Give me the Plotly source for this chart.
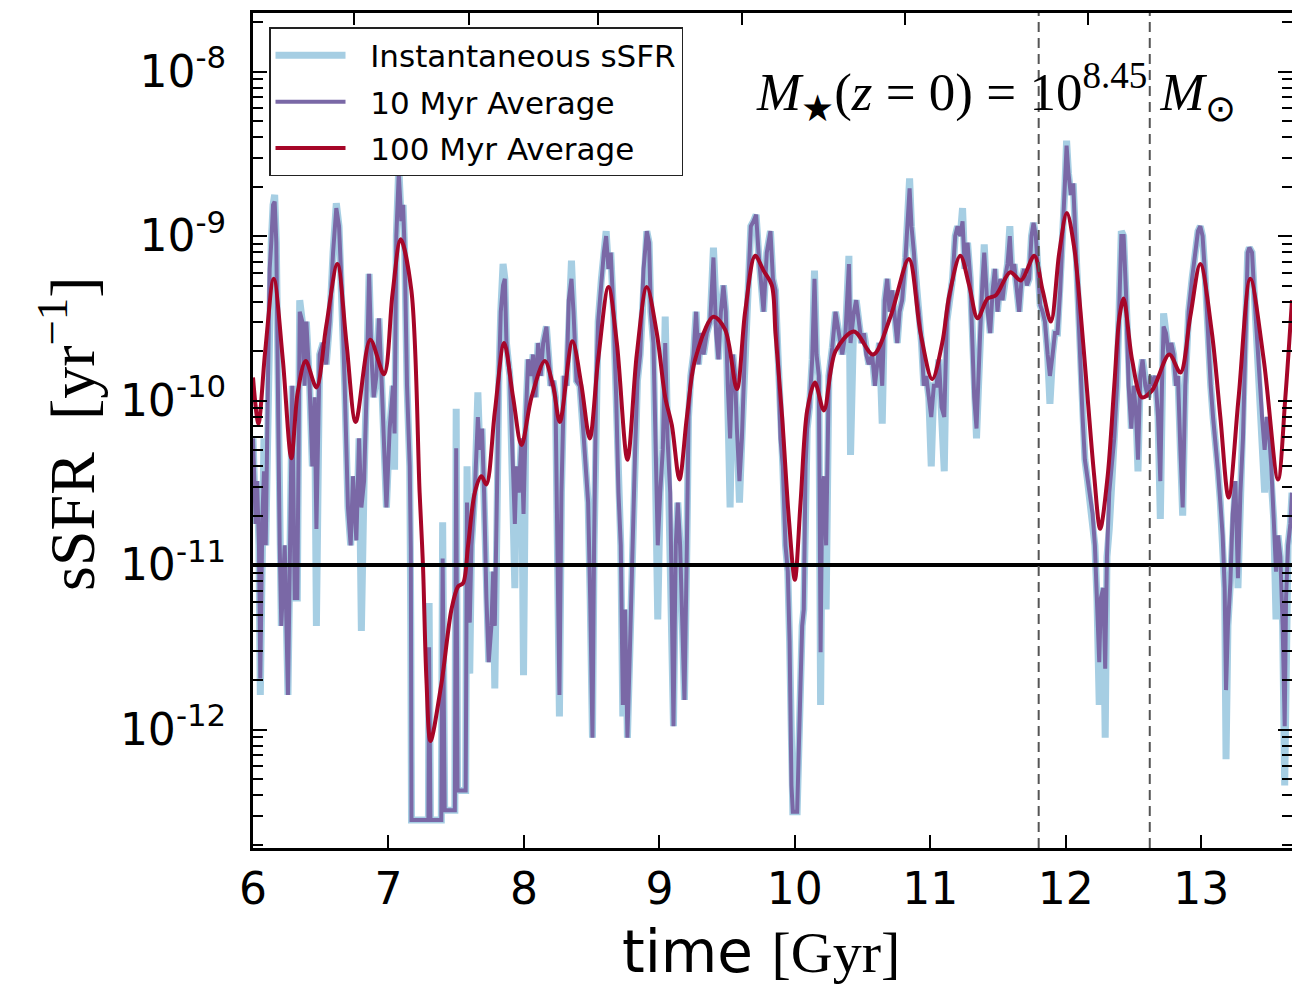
import plotly.graph_objects as go

# ---------------- data ----------------
time_10myr = [
    6.000, 6.020, 6.030, 6.044, 6.054, 6.069, 6.081, 6.094, 6.110, 6.123, 6.135, 6.148, 6.160, 6.172, 6.197, 6.209,
    6.234, 6.246, 6.258, 6.271, 6.290, 6.308, 6.327, 6.345, 6.364, 6.381, 6.394, 6.418, 6.438, 6.455, 6.468, 6.492,
    6.517, 6.541, 6.566, 6.591, 6.615, 6.635, 6.652, 6.677, 6.701, 6.721, 6.738, 6.763, 6.783, 6.800, 6.820, 6.837,
    6.857, 6.874, 6.891, 6.911, 6.930, 6.948, 6.967, 6.985, 7.009, 7.034, 7.045, 7.058, 7.076, 7.095, 7.108, 7.120,
    7.137, 7.157, 7.165, 7.170, 7.295, 7.300, 7.310, 7.390, 7.400, 7.415, 7.490, 7.500, 7.510, 7.570, 7.580, 7.600,
    7.613, 7.637, 7.660, 7.674, 7.691, 7.706, 7.723, 7.740, 7.760, 7.773, 7.785, 7.797, 7.814, 7.829, 7.846, 7.859,
    7.871, 7.896, 7.913, 7.933, 7.945, 7.962, 7.982, 7.997, 8.014, 8.031, 8.051, 8.068, 8.085, 8.105, 8.124, 8.142,
    8.166, 8.183, 8.198, 8.215, 8.233, 8.248, 8.262, 8.277, 8.297, 8.314, 8.331, 8.351, 8.366, 8.388, 8.413, 8.437,
    8.462, 8.474, 8.489, 8.506, 8.518, 8.533, 8.548, 8.572, 8.590, 8.607, 8.624, 8.641, 8.661, 8.681, 8.698, 8.715,
    8.730, 8.747, 8.764, 8.784, 8.804, 8.821, 8.838, 8.858, 8.883, 8.907, 8.924, 8.937, 8.956, 8.976, 8.988, 9.006,
    9.025, 9.043, 9.060, 9.080, 9.094, 9.104, 9.121, 9.136, 9.153, 9.173, 9.185, 9.203, 9.215, 9.232, 9.252, 9.271,
    9.289, 9.306, 9.326, 9.350, 9.375, 9.399, 9.419, 9.436, 9.454, 9.473, 9.490, 9.505, 9.522, 9.542, 9.559, 9.572,
    9.591, 9.609, 9.633, 9.658, 9.675, 9.695, 9.714, 9.732, 9.749, 9.769, 9.793, 9.813, 9.820, 9.838, 9.857, 9.877,
    9.894, 9.911, 9.931, 9.948, 9.961, 9.975, 9.985, 10.017, 10.030, 10.042, 10.054, 10.066, 10.079, 10.091, 10.108, 10.128,
    10.145, 10.160, 10.177, 10.190, 10.202, 10.214, 10.231, 10.251, 10.276, 10.300, 10.325, 10.350, 10.374, 10.399, 10.411, 10.436,
    10.453, 10.473, 10.492, 10.510, 10.527, 10.546, 10.571, 10.591, 10.608, 10.625, 10.645, 10.664, 10.682, 10.699, 10.719, 10.738,
    10.756, 10.773, 10.792, 10.817, 10.837, 10.847, 10.861, 10.879, 10.896, 10.915, 10.935, 10.952, 10.970, 10.989, 11.007, 11.026,
    11.046, 11.063, 11.083, 11.103, 11.122, 11.140, 11.164, 11.184, 11.201, 11.221, 11.238, 11.255, 11.275, 11.295, 11.312, 11.324,
    11.341, 11.356, 11.368, 11.386, 11.398, 11.410, 11.423, 11.442, 11.460, 11.477, 11.496, 11.516, 11.533, 11.550, 11.570, 11.587,
    11.602, 11.619, 11.639, 11.656, 11.674, 11.693, 11.713, 11.730, 11.747, 11.762, 11.779, 11.792, 11.811, 11.829, 11.846, 11.866,
    11.883, 11.903, 11.920, 11.939, 11.959, 11.976, 11.993, 12.006, 12.020, 12.038, 12.055, 12.070, 12.087, 12.107, 12.124, 12.141,
    12.161, 12.181, 12.198, 12.215, 12.230, 12.247, 12.259, 12.277, 12.291, 12.304, 12.321, 12.338, 12.358, 12.378, 12.395, 12.410,
    12.427, 12.444, 12.464, 12.484, 12.501, 12.518, 12.533, 12.550, 12.567, 12.587, 12.607, 12.624, 12.641, 12.661, 12.681, 12.698,
    12.710, 12.722, 12.740, 12.759, 12.779, 12.796, 12.814, 12.828, 12.846, 12.863, 12.882, 12.907, 12.932, 12.956, 12.976, 12.993,
    13.010, 13.030, 13.050, 13.070, 13.087, 13.104, 13.124, 13.141, 13.158, 13.173, 13.183, 13.197, 13.215, 13.232, 13.252, 13.271,
    13.289, 13.308, 13.326, 13.343, 13.355, 13.375, 13.394, 13.412, 13.429, 13.449, 13.468, 13.485, 13.503, 13.517, 13.535, 13.552,
    13.567, 13.584, 13.601, 13.616, 13.626, 13.641, 13.658, 13.670,
]

# log10 of the 10 Myr averaged sSFR [yr^-1]
log_ssfr_10myr = [
    -10.23, -10.75, -10.49, -10.88, -11.69, -10.72, -10.43, -10.88, -9.91, -9.20, -9.04, -8.81, -8.79, -9.04, -10.88, -11.37,
    -10.88, -11.46, -11.79, -11.04, -9.91, -11.20, -11.20, -9.46, -9.52, -9.91, -9.52, -9.91, -10.40, -9.98, -10.78, -9.72,
    -9.65, -9.78, -9.52, -9.10, -8.83, -8.94, -9.26, -9.91, -10.65, -10.88, -10.46, -10.85, -10.23, -10.65, -10.49, -9.98,
    -9.23, -9.72, -9.98, -9.85, -9.50, -9.85, -10.20, -10.65, -10.17, -9.91, -10.20, -9.00, -8.62, -8.91, -8.81, -9.10,
    -9.91, -10.40, -10.90, -12.55, -12.55, -11.50, -12.55, -12.55, -10.96, -12.49, -12.49, -10.29, -12.37, -12.37, -10.62, -11.35,
    -10.88, -10.56, -10.10, -10.30, -10.17, -10.56, -11.20, -11.59, -11.37, -11.04, -11.37, -10.56, -9.91, -9.46, -9.30, -9.26,
    -9.65, -9.85, -10.30, -10.75, -10.40, -10.56, -10.23, -10.69, -10.10, -9.75, -9.85, -9.72, -9.98, -9.65, -9.85, -9.65,
    -9.55, -9.72, -9.91, -9.88, -9.98, -10.95, -11.79, -10.56, -9.85, -9.91, -9.39, -9.26, -9.46, -9.88, -9.91, -10.17,
    -10.49, -10.62, -11.20, -12.05, -10.88, -9.91, -9.52, -9.26, -9.10, -9.00, -9.20, -9.10, -9.46, -9.98, -10.56, -10.88,
    -11.85, -11.27, -12.05, -11.46, -10.75, -10.30, -9.88, -9.72, -9.20, -8.97, -9.04, -9.46, -9.65, -10.40, -10.88, -10.56,
    -10.30, -9.65, -10.23, -10.56, -11.20, -11.98, -10.88, -10.62, -10.88, -11.53, -11.82, -10.88, -10.10, -9.85, -9.72, -9.46,
    -9.78, -9.59, -9.72, -9.59, -9.52, -9.13, -9.59, -9.75, -9.46, -9.30, -9.46, -9.91, -10.23, -9.72, -9.85, -10.17,
    -10.49, -10.23, -9.65, -9.26, -8.94, -8.91, -8.87, -9.10, -9.26, -9.46, -9.10, -9.00, -8.97, -9.26, -9.33, -9.75,
    -10.23, -10.40, -10.88, -11.04, -11.46, -12.34, -12.50, -12.50, -11.95, -11.72, -11.37, -11.27, -10.40, -10.17, -10.04, -9.75,
    -9.26, -9.72, -9.85, -11.53, -10.56, -10.46, -10.88, -9.85, -9.68, -9.46, -9.59, -9.72, -9.59, -9.17, -9.65, -9.46,
    -9.39, -9.55, -9.65, -9.59, -9.72, -9.78, -9.72, -9.91, -9.78, -9.65, -9.91, -9.39, -9.26, -9.46, -9.33, -9.52,
    -9.65, -9.46, -9.39, -9.13, -8.87, -8.71, -8.94, -9.10, -9.33, -9.46, -9.65, -9.91, -9.85, -9.98, -10.10, -9.91,
    -9.91, -9.75, -10.04, -10.10, -9.52, -9.39, -9.26, -9.00, -8.94, -9.00, -8.91, -9.20, -9.04, -9.26, -9.65, -9.98,
    -10.17, -9.91, -9.59, -9.26, -9.10, -9.26, -9.46, -9.59, -9.33, -9.20, -9.46, -9.26, -9.39, -9.26, -9.17, -9.00,
    -9.23, -9.17, -9.36, -9.46, -9.26, -9.20, -9.30, -9.26, -9.00, -8.92, -9.00, -9.20, -9.42, -9.46, -9.52, -9.72,
    -9.85, -9.72, -9.59, -9.59, -9.33, -9.00, -8.71, -8.45, -8.62, -8.75, -8.68, -9.00, -9.46, -9.78, -10.10, -10.36,
    -10.49, -10.62, -10.69, -10.88, -11.20, -11.59, -11.20, -11.14, -11.63, -10.95, -10.56, -10.43, -10.23, -9.91, -9.46, -9.00,
    -9.00, -9.33, -9.91, -10.17, -9.91, -10.07, -10.36, -9.85, -9.75, -9.91, -9.98, -9.85, -9.91, -9.85, -10.10, -10.49,
    -9.91, -9.55, -9.59, -9.72, -9.65, -9.72, -9.91, -9.85, -10.30, -10.65, -9.91, -9.46, -9.26, -9.07, -8.97, -8.94,
    -9.00, -9.26, -9.65, -9.91, -10.10, -10.23, -10.43, -10.62, -10.82, -11.14, -11.76, -11.37, -11.11, -10.69, -10.49, -11.08,
    -10.56, -10.23, -9.72, -9.10, -9.07, -9.10, -9.39, -9.65, -9.91, -10.10, -10.30, -10.10, -10.23, -10.40, -10.72, -11.04,
    -10.82, -10.95, -11.37, -11.98, -11.20, -10.88, -10.75, -10.56,
]

# log10 of the instantaneous sSFR [yr^-1], same time sampling
log_ssfr_inst = [
    -10.23, -10.75, -10.49, -10.88, -11.79, -10.72, -10.23, -10.88, -9.91, -9.20, -9.04, -8.81, -8.75, -9.04, -10.88, -11.37,
    -10.88, -11.46, -11.79, -11.04, -9.91, -11.20, -11.20, -9.39, -9.52, -9.91, -9.52, -9.91, -10.40, -9.98, -11.37, -9.72,
    -9.65, -9.78, -9.52, -9.10, -8.80, -8.94, -9.26, -9.91, -10.65, -10.88, -10.46, -10.85, -10.23, -11.40, -10.49, -9.98,
    -9.23, -9.72, -9.98, -9.85, -9.50, -9.85, -10.20, -10.65, -10.17, -9.91, -10.42, -9.00, -8.58, -8.91, -8.81, -9.10,
    -9.91, -10.40, -11.38, -12.55, -12.55, -11.23, -12.55, -12.55, -10.74, -12.49, -12.49, -10.05, -12.37, -12.37, -10.40, -11.66,
    -10.88, -10.56, -9.95, -10.30, -10.17, -10.56, -11.20, -11.59, -11.37, -11.04, -11.75, -10.56, -9.91, -9.46, -9.17, -9.26,
    -9.65, -9.85, -10.30, -11.14, -10.40, -10.56, -10.23, -11.67, -10.10, -9.75, -9.85, -9.72, -9.98, -9.65, -9.85, -9.65,
    -9.55, -9.72, -9.91, -9.88, -9.98, -10.95, -11.92, -10.56, -9.85, -9.91, -9.39, -9.15, -9.46, -9.88, -9.91, -10.17,
    -10.49, -10.62, -11.20, -12.05, -10.88, -9.91, -9.52, -9.26, -9.10, -8.97, -9.20, -9.10, -9.46, -9.98, -10.56, -10.88,
    -11.92, -11.27, -12.05, -11.46, -10.75, -10.30, -9.88, -9.72, -9.20, -8.97, -9.04, -9.46, -9.65, -10.40, -11.33, -10.56,
    -10.30, -9.49, -10.23, -10.56, -11.20, -11.98, -10.88, -10.62, -10.88, -11.53, -11.82, -10.88, -10.10, -9.85, -9.72, -9.46,
    -9.78, -9.59, -9.72, -9.59, -9.52, -9.07, -9.59, -9.75, -9.46, -9.30, -9.46, -9.91, -10.65, -9.72, -9.85, -10.17,
    -10.62, -10.23, -9.65, -9.26, -8.94, -8.91, -8.87, -9.10, -9.26, -9.46, -9.10, -9.00, -8.97, -9.26, -9.33, -9.75,
    -10.23, -10.40, -10.88, -11.04, -11.46, -12.34, -12.50, -12.50, -11.95, -11.72, -11.37, -11.27, -10.40, -10.17, -10.04, -9.75,
    -9.21, -9.72, -9.85, -11.85, -10.56, -10.46, -11.27, -9.85, -9.68, -9.46, -9.59, -9.72, -9.59, -9.12, -10.33, -9.46,
    -9.39, -9.55, -9.65, -9.59, -9.72, -9.78, -9.72, -9.91, -9.78, -9.65, -10.14, -9.39, -9.26, -9.46, -9.33, -9.52,
    -9.65, -9.46, -9.39, -9.13, -8.87, -8.65, -8.94, -9.10, -9.33, -9.46, -9.65, -9.91, -9.85, -9.98, -10.40, -9.91,
    -9.91, -9.75, -10.04, -10.43, -9.52, -9.39, -9.26, -9.00, -8.94, -9.00, -8.83, -9.20, -9.04, -9.26, -9.65, -9.98,
    -10.23, -9.91, -9.59, -9.26, -9.05, -9.26, -9.46, -9.59, -9.33, -9.20, -9.46, -9.26, -9.39, -9.26, -9.17, -8.94,
    -9.23, -9.17, -9.36, -9.46, -9.26, -9.20, -9.30, -9.26, -9.00, -8.92, -9.00, -9.20, -9.42, -9.46, -9.52, -9.72,
    -10.02, -9.72, -9.59, -9.59, -9.33, -9.00, -8.71, -8.42, -8.62, -8.75, -8.68, -9.00, -9.46, -9.78, -10.10, -10.36,
    -10.49, -10.62, -10.69, -10.88, -11.20, -11.85, -11.20, -11.14, -12.05, -10.95, -10.78, -10.43, -10.23, -9.91, -9.46, -8.97,
    -9.00, -9.33, -9.91, -10.17, -9.91, -10.07, -10.43, -9.85, -9.75, -9.91, -9.98, -9.85, -9.91, -9.85, -10.10, -10.72,
    -9.91, -9.47, -9.59, -9.72, -9.65, -9.72, -9.91, -9.85, -10.30, -10.70, -9.91, -9.46, -9.26, -9.07, -8.97, -8.94,
    -9.00, -9.26, -9.65, -9.91, -10.10, -10.23, -10.43, -10.62, -10.82, -11.14, -12.18, -11.37, -11.11, -10.69, -10.49, -11.14,
    -10.56, -10.23, -9.72, -9.10, -9.07, -9.10, -9.39, -9.65, -9.91, -10.10, -10.56, -10.10, -10.23, -10.49, -10.72, -11.33,
    -10.82, -10.95, -11.37, -12.34, -11.20, -10.88, -10.75, -10.56,
]

time_100myr = [
    6.000, 6.040, 6.090, 6.153, 6.220, 6.283, 6.330, 6.389, 6.468, 6.540, 6.623, 6.690, 6.758, 6.866, 6.967, 7.030,
    7.090, 7.169, 7.230, 7.255, 7.280, 7.310, 7.391, 7.465, 7.514, 7.551, 7.588, 7.637, 7.686, 7.723, 7.785, 7.854,
    7.920, 7.982, 8.056, 8.154, 8.215, 8.265, 8.358, 8.425, 8.486, 8.548, 8.624, 8.686, 8.764, 8.833, 8.907, 8.981,
    9.043, 9.092, 9.148, 9.203, 9.264, 9.399, 9.486, 9.572, 9.633, 9.707, 9.769, 9.830, 9.857, 9.906, 9.956, 10.000,
    10.042, 10.091, 10.148, 10.214, 10.300, 10.436, 10.578, 10.706, 10.842, 10.928, 11.014, 11.088, 11.140, 11.221, 11.287, 11.349,
    11.423, 11.484, 11.590, 11.669, 11.767, 11.829, 11.890, 11.952, 12.008, 12.062, 12.112, 12.161, 12.210, 12.254, 12.309, 12.358,
    12.395, 12.427, 12.489, 12.562, 12.636, 12.764, 12.846, 12.919, 12.993, 13.079, 13.141, 13.202, 13.276, 13.362, 13.461, 13.567,
    13.621, 13.670,
]

log_ssfr_100myr = [
    -9.86, -10.14, -9.70, -9.26, -9.75, -10.35, -9.95, -9.76, -9.92, -9.55, -9.17, -9.65, -10.13, -9.63, -9.84, -9.35,
    -9.02, -9.33, -10.56, -11.01, -11.69, -12.07, -11.72, -11.27, -11.13, -11.11, -10.88, -10.56, -10.46, -10.51, -10.07, -9.65,
    -9.98, -10.27, -9.98, -9.76, -9.91, -10.13, -9.64, -9.91, -10.23, -9.75, -9.31, -9.65, -10.36, -9.72, -9.31, -9.59,
    -9.98, -10.15, -10.48, -10.10, -9.75, -9.49, -9.57, -9.93, -9.46, -9.12, -9.21, -9.30, -9.59, -10.10, -10.72, -11.09,
    -10.62, -10.06, -9.89, -10.06, -9.70, -9.58, -9.72, -9.49, -9.14, -9.59, -9.87, -9.65, -9.36, -9.12, -9.30, -9.50,
    -9.38, -9.36, -9.22, -9.27, -9.12, -9.33, -9.52, -9.10, -8.86, -9.07, -9.49, -9.98, -10.46, -10.78, -10.46, -9.91,
    -9.50, -9.38, -9.75, -9.98, -9.94, -9.72, -9.83, -9.49, -9.17, -9.59, -10.10, -10.59, -9.98, -9.26, -9.75, -10.48,
    -9.98, -9.39,
]

threshold_ssfr = 1e-11
marker_times = [11.80, 12.62]
top_tick_times = [6.749, 7.598, 8.545, 9.608, 10.81, 12.161]
x_tick_vals = [6, 7, 8, 9, 10, 11, 12, 13]
y_tick_exponents = [-12, -11, -10, -9, -8]
x_range = [6.0, 13.67]
y_log_range = [-12.72, -7.644]

# ---------------- figure ----------------
ssfr_10 = [10 ** v for v in log_ssfr_10myr]
ssfr_inst = [10 ** v for v in log_ssfr_inst]
ssfr_100 = [10 ** v for v in log_ssfr_100myr]

BLUE = "#a6cee3"
PURPLE = "#7a68a6"
RED = "#a60628"
PAD = "&nbsp;&nbsp;"

fig = go.Figure()
fig.add_trace(go.Scatter(x=time_10myr, y=ssfr_inst, mode="lines", name=PAD + "Instantaneous sSFR",
                         line=dict(color=BLUE, width=7), legendgroup="a"))
fig.add_trace(go.Scatter(x=time_10myr, y=ssfr_10, mode="lines", name=PAD + "10 Myr Average",
                         line=dict(color=PURPLE, width=4), legendgroup="b"))
fig.add_trace(go.Scatter(x=time_100myr, y=ssfr_100, mode="lines", name=PAD + "100 Myr Average",
                         line=dict(color=RED, width=4, shape="spline", smoothing=0.9), legendgroup="c"))
# threshold line drawn on the overlaid (top/right) axes so that they carry a trace
fig.add_trace(go.Scatter(x=x_range, y=[threshold_ssfr, threshold_ssfr], mode="lines",
                         xaxis="x2", yaxis="y2", showlegend=False, hoverinfo="skip",
                         line=dict(color="black", width=4)))

major_vals = [10.0 ** e for e in y_tick_exponents]
major_text = ["10<sup>%d</sup>" % e for e in y_tick_exponents]
minor_vals = [m * 10.0 ** e for e in range(-13, -7) for m in range(2, 10)]

fig.update_layout(
    width=1292, height=986,
    margin=dict(l=253, r=0, t=13, b=138),
    paper_bgcolor="white", plot_bgcolor="white",
    font=dict(family="DejaVu Sans", color="black"),
    showlegend=True,
    legend=dict(x=0.0154, y=0.983, xanchor="left", yanchor="top",
                font=dict(size=31, family="DejaVu Sans", color="black"),
                bgcolor="white", bordercolor="#222222", borderwidth=1.5,
                itemwidth=70, tracegroupgap=3, traceorder="grouped"),
    xaxis=dict(range=x_range, tickvals=x_tick_vals, ticks="inside", ticklen=13, tickwidth=1.5,
               tickcolor="black", showline=True, linewidth=3, linecolor="black", mirror=False,
               showgrid=False, zeroline=False, tickfont=dict(size=44, family="DejaVu Sans"),
               ticklabelstandoff=0),
    xaxis2=dict(range=x_range, overlaying="x", side="top", anchor="y", tickvals=top_tick_times,
                ticks="inside", ticklen=12, tickwidth=1.5, tickcolor="black", showticklabels=False,
                showline=True, linewidth=3, linecolor="black", showgrid=False, zeroline=False),
    yaxis=dict(type="log", range=y_log_range, tickvals=major_vals, ticktext=major_text,
               ticks="inside", ticklen=14, tickwidth=1.5, tickcolor="black",
               minor=dict(tickvals=minor_vals, ticks="inside", ticklen=10, tickwidth=1.5,
                          tickcolor="black", showgrid=False),
               showline=True, linewidth=3, linecolor="black", showgrid=False, zeroline=False,
               tickfont=dict(size=44, family="DejaVu Sans"), ticklabelstandoff=15),
    yaxis2=dict(type="log", range=y_log_range, overlaying="y", side="right", anchor="x",
                tickvals=major_vals, ticks="inside", ticklen=14, tickwidth=1.5, tickcolor="black",
                minor=dict(tickvals=minor_vals, ticks="inside", ticklen=10, tickwidth=1.5,
                           tickcolor="black", showgrid=False),
                showticklabels=False, showline=False, showgrid=False, zeroline=False),
)

# vertical dashed markers
for t in marker_times:
    fig.add_shape(type="line", xref="x", x0=t, x1=t, yref="paper", y0=0, y1=1,
                  line=dict(color="#555555", width=2, dash="10px,6px"), layer="above")

serif = "Liberation Serif"
fig.add_annotation(xref="paper", yref="paper", x=0.715, y=0.905, xanchor="center", yanchor="middle",
                   showarrow=False,
                   text="<i>M</i><sub>★</sub>(<i>z</i> = 0) = 10<sup>8.45</sup> <i>M</i><sub>⊙</sub>",
                   font=dict(family=serif, size=53, color="black"))
fig.add_annotation(xref="paper", yref="paper", x=0.489, y=-0.124, xanchor="center", yanchor="middle",
                   showarrow=False,
                   text="time <span style=\"font-family:Liberation Serif\">[Gyr]</span>",
                   font=dict(family="DejaVu Sans", size=58, color="black"))
fig.add_annotation(xref="paper", yref="paper", x=-0.178, y=0.496, xanchor="center", yanchor="middle",
                   showarrow=False, textangle=-90,
                   text="sSFR&nbsp;&nbsp;[yr<sup>−1</sup>]",
                   font=dict(family=serif, size=64, color="black"))

fig.write_html("out.html")
